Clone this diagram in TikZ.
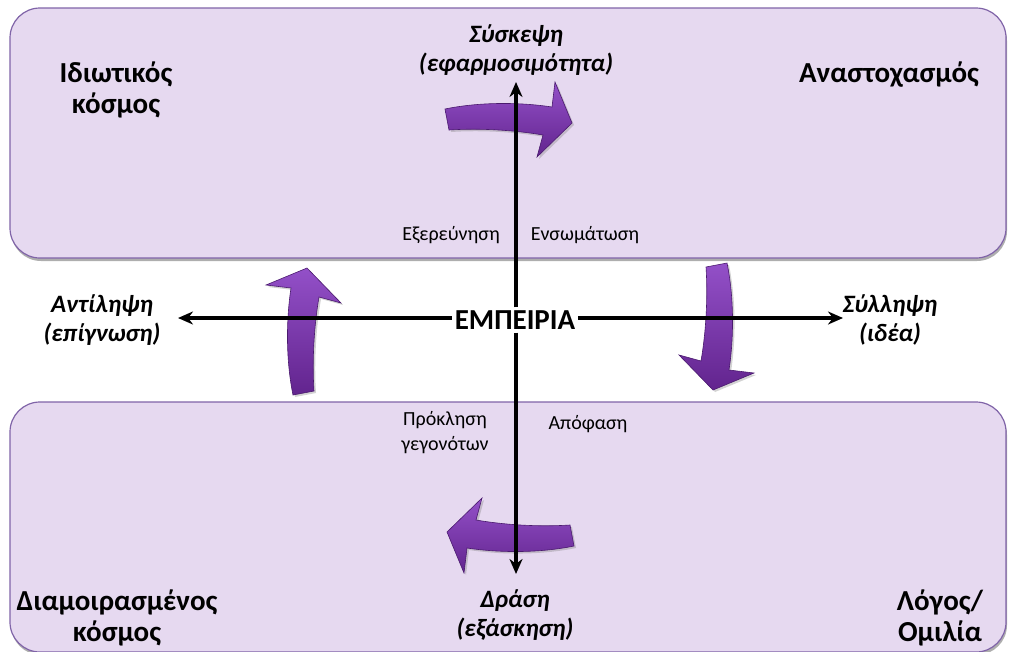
\documentclass[tikz,border=0pt]{standalone}
\usepackage{fontspec}
\setmainfont{Carlito}
\usetikzlibrary{shadows,arrows.meta}

\definecolor{panelfill}{HTML}{E6D9F0}
\definecolor{panelline}{HTML}{8064A8}
\definecolor{cyclelight}{HTML}{9350C8}
\definecolor{cycledark}{HTML}{62248E}
\definecolor{cycleedge}{HTML}{4A1A6E}

\tikzset{
  panel/.style={rounded corners=30pt, fill=panelfill, draw=panelline, line width=1.2pt,
    drop shadow={shadow xshift=1pt, shadow yshift=-3pt, opacity=0.45, fill=black!70}},
  axis/.style={line width=3.5pt, -{Stealth[length=15pt,width=13pt]}},
  world/.style={font=\fontsize{29}{31}\selectfont\bfseries, align=center, inner sep=0pt},
  phase/.style={font=\fontsize{25}{29}\selectfont\bfseries\itshape, align=center, inner sep=0pt},
  mode/.style={font=\fontsize{20}{25}\selectfont, align=center, inner sep=0pt},
  core/.style={font=\fontsize{29}{34}\selectfont\bfseries, inner sep=3pt},
  cyclearrow/.pic={
    \path[top color=cyclelight, bottom color=cycledark, draw=cycleedge, line width=0.6pt,
      drop shadow={shadow xshift=2pt, shadow yshift=-2pt, opacity=0.35}]
      (-64,-11) .. controls (-30,-18) and (10,-18) .. (43,-13)
      -- (46,-38) -- (63,3) -- (28,37) -- (34,15)
      .. controls (5,10) and (-30,8) .. (-60,10) -- cycle;
  }
}

\begin{document}
\begin{tikzpicture}[x=1pt, y=-1pt]
  \useasboundingbox (0,0) rectangle (1011,651);

  % upper and lower panels
  \node[panel, minimum width=996pt, minimum height=250pt, inner sep=0pt] (private) at (508,133) {};
  \node[panel, minimum width=996pt, minimum height=250pt, inner sep=0pt] (shared) at (508,527) {};

  % the four curved cycle arrows
  \pic at (509,120) {cyclearrow};
  \pic[rotate=-90] at (716,327) {cyclearrow};
  \pic[rotate=180] at (510,535) {cyclearrow};
  \pic[rotate=90] at (304,331) {cyclearrow};

  % axes around the centre
  \node[core] (exp) at (515,320) {ΕΜΠΕΙΡΙΑ};
  \coordinate (up) at (516,82);
  \coordinate (down) at (516,574);
  \coordinate (west) at (178,318);
  \coordinate (east) at (843,318);
  \draw[axis] (exp.north -| up) -- (up);
  \draw[axis] (exp.south -| down) -- (down);
  \draw[axis] (exp.west |- west) -- (west);
  \draw[axis] (exp.east |- east) -- (east);

  % corner labels
  \node[world] (privlabel) at (116,90) {Ιδιωτικός\\κόσμος};
  \node[world] (reflabel) at (889,75) {Αναστοχασμός};
  \node[world] (sharedlabel) at (117,618) {Διαμοιρασμένος\\κόσμος};
  \node[world] (speechlabel) at (940,618) {Λόγος/\\Ομιλία};

  % phase labels at the axis ends
  \node[phase] (conf) at (516,50) {Σύσκεψη\\(εφαρμοσιμότητα)};
  \node[phase] (perc) at (102,320) {Αντίληψη\\(επίγνωση)};
  \node[phase] (conc) at (890,320) {Σύλληψη\\(ιδέα)};
  \node[phase] (act) at (515,615) {Δράση\\(εξάσκηση)};

  % transitions along the axes
  \node[mode] (explore) at (451,235) {Εξερεύνηση};
  \node[mode] (embody) at (585,235) {Ενσωμάτωση};
  \node[mode] (provoke) at (445,433) {Πρόκληση\\γεγονότων};
  \node[mode] (decide) at (588,424) {Απόφαση};
\end{tikzpicture}
\end{document}
